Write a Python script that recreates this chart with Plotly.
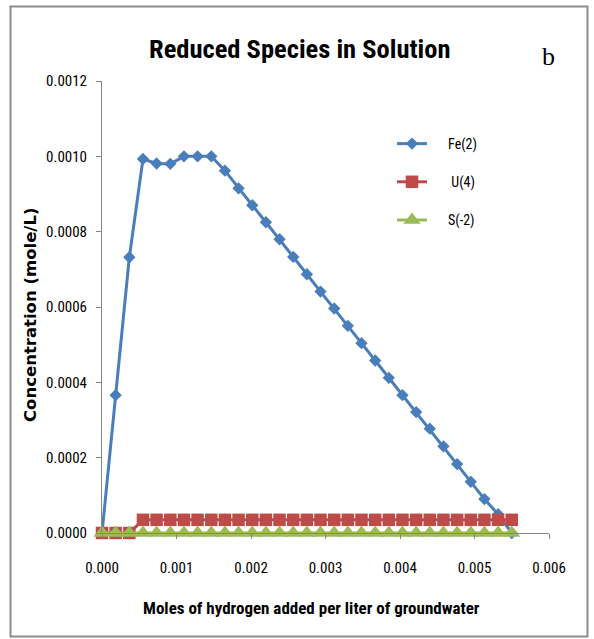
import plotly.graph_objects as go

# Moles of hydrogen added per liter of groundwater
h2_added = [0.0, 0.000183, 0.000367, 0.00055, 0.000733, 0.000917, 0.0011, 0.001283,
            0.001467, 0.00165, 0.001833, 0.002017, 0.0022, 0.002383, 0.002567, 0.00275,
            0.002933, 0.003117, 0.0033, 0.003483, 0.003667, 0.00385, 0.004033, 0.004217,
            0.0044, 0.004583, 0.004767, 0.00495, 0.005133, 0.005317, 0.0055]

fe2 = [0.0, 0.000366, 0.000732, 0.000993, 0.000981, 0.00098, 0.001, 0.001, 0.001,
       0.000962, 0.000915, 0.00087, 0.000825, 0.00078, 0.000733, 0.000687, 0.000641,
       0.000596, 0.00055, 0.000504, 0.000458, 0.000412, 0.000366, 0.000321, 0.000277,
       0.00023, 0.000183, 0.000136, 0.000090, 0.000050, 0.0]

u4 = [0.0, 0.0, 0.0] + [0.000035] * 28

s2 = [0.0] * 31

series_names = ["Fe(2)", "U(4)", "S(-2)"]
legend_labels = ["\u00a0\u00a0\u00a0\u00a0\u00a0Fe(2)", "\u00a0\u00a0\u00a0\u00a0\u00a0\u00a0U(4)",
                 "\u00a0\u00a0\u00a0\u00a0\u00a0S(-2)"]
x_ticks = [0.0, 0.001, 0.002, 0.003, 0.004, 0.005, 0.006]
y_ticks = [0.0, 0.0002, 0.0004, 0.0006, 0.0008, 0.0010, 0.0012]

NARROW = "Liberation Sans Narrow, Arial Narrow, Roboto Condensed, Liberation Sans"

W, H = 594, 639
L, R, T, B = 102, 45, 81, 106
PW, PH = W - L - R, H - T - B


def px(x):
    return (x - L) / PW


def py(y):
    return (H - B - y) / PH


fig = go.Figure()
styles = [
    dict(color="#4A7EBB", symbol="diamond", size=9.5),
    dict(color="#BE4B48", symbol="square", size=12.5),
    dict(color="#9BBB59", symbol="triangle-up", size=15),
]
for i, (vals, st) in enumerate(zip([fe2, u4, s2], styles)):
    fig.add_trace(go.Scatter(
        x=h2_added, y=vals, mode="lines+markers", name=legend_labels[i],
        legendgroup=series_names[i],
        line=dict(color=st["color"], width=3),
        marker=dict(color=st["color"], symbol=st["symbol"], size=st["size"],
                    line=dict(width=0)),
        cliponaxis=False,
    ))

fig.update_layout(
    width=W, height=H,
    margin=dict(l=L, r=R, t=T, b=B),
    paper_bgcolor="white", plot_bgcolor="white",
    font=dict(family=NARROW, size=14, color="#000000"),
    showlegend=True,
    legend=dict(x=px(392), y=py(128), xanchor="left", yanchor="top",
                bgcolor="rgba(0,0,0,0)", tracegroupgap=17,
                font=dict(family=NARROW, size=14), itemwidth=30),
    xaxis=dict(range=[0, 0.006], tickvals=x_ticks, tickformat=".3f",
               showgrid=False, zeroline=False, showline=True, linecolor="#868686",
               linewidth=1, ticks="outside", ticklen=5, tickcolor="#868686",
               ticklabelstandoff=16, tickfont=dict(family=NARROW, size=15)),
    yaxis=dict(range=[0, 0.0012], tickvals=y_ticks, tickformat=".4f",
               showgrid=False, zeroline=False, showline=True, linecolor="#868686",
               linewidth=1, ticks="outside", ticklen=5, tickcolor="#868686",
               ticklabelstandoff=6, tickfont=dict(family=NARROW, size=15)),
    shapes=[dict(type="rect", xref="paper", yref="paper",
                 x0=px(10.5), x1=px(587.5), y0=py(636.5), y1=py(6.5),
                 line=dict(color="#8C8C8C", width=2), layer="below")],
    annotations=[
        dict(text="<b>Reduced Species in Solution</b>", xref="paper", yref="paper",
             x=px(299), y=py(48), showarrow=False, xanchor="center", yanchor="middle",
             font=dict(family=NARROW, size=26.5)),
        dict(text="b", xref="paper", yref="paper", x=px(548), y=py(57),
             showarrow=False, xanchor="center", yanchor="middle",
             font=dict(family="Liberation Serif, Times New Roman, serif", size=26)),
        dict(text="<b>Moles of hydrogen added per liter of groundwater</b>",
             xref="paper", yref="paper", x=px(311), y=py(608), showarrow=False,
             xanchor="center", yanchor="middle", font=dict(family=NARROW, size=17)),
        dict(text="<b>Concentration (mole/L)</b>", xref="paper", yref="paper",
             x=px(30), y=py(315), showarrow=False, textangle=-90,
             xanchor="center", yanchor="middle",
             font=dict(family="DejaVu Sans, Verdana, sans-serif", size=16.5)),
    ],
)

fig.write_html("out.html")
